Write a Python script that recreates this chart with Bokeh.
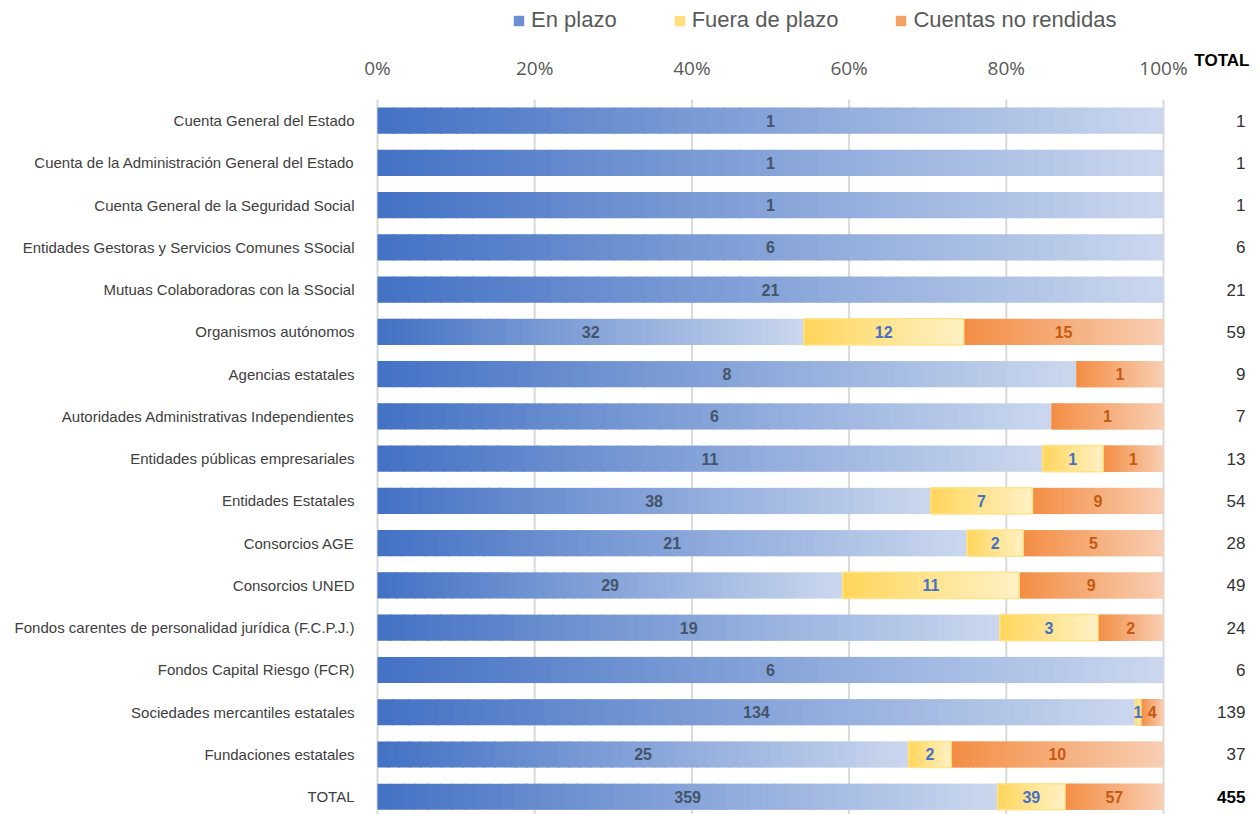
from bokeh.plotting import figure
from bokeh.models import (Range1d, FixedTicker, ColumnDataSource, Legend, LegendItem)
from bokeh.embed import file_html
from bokeh.resources import INLINE
from bokeh.core.properties import value

categories = [
    "Cuenta General del Estado",
    "Cuenta de la Administración General del Estado",
    "Cuenta General de la Seguridad Social",
    "Entidades Gestoras y Servicios Comunes SSocial",
    "Mutuas Colaboradoras con la SSocial",
    "Organismos autónomos",
    "Agencias estatales",
    "Autoridades Administrativas Independientes",
    "Entidades públicas empresariales",
    "Entidades Estatales",
    "Consorcios AGE",
    "Consorcios UNED",
    "Fondos carentes de personalidad jurídica (F.C.P.J.)",
    "Fondos Capital Riesgo (FCR)",
    "Sociedades mercantiles estatales",
    "Fundaciones estatales",
    "TOTAL",
]
en_plazo = [1, 1, 1, 6, 21, 32, 8, 6, 11, 38, 21, 29, 19, 6, 134, 25, 359]
fuera_plazo = [0, 0, 0, 0, 0, 12, 0, 0, 1, 7, 2, 11, 3, 0, 1, 2, 39]
no_rendidas = [0, 0, 0, 0, 0, 15, 1, 1, 1, 9, 5, 9, 2, 0, 4, 10, 57]
series_names = ["En plazo", "Fuera de plazo", "Cuentas no rendidas"]
x_ticks = [0, 0.2, 0.4, 0.6, 0.8, 1.0]
x_tick_labels = ["0%", "20%", "40%", "60%", "80%", "100%"]

totals = [a + b + c for a, b, c in zip(en_plazo, fuera_plazo, no_rendidas)]

# gradient endpoints per series (left -> right)
grads = [((0x44, 0x72, 0xC4), (0xC9, 0xD6, 0xEE)),
         ((0xFF, 0xD6, 0x5C), (0xFF, 0xF1, 0xC4)),
         ((0xF4, 0x8E, 0x45), (0xF8, 0xCE, 0xB2))]
label_colors = ["#44546A", "#4472C4", "#C55A11"]
N = 50
FONT = "Liberation Sans"

W, H = 1260, 814
BL = 361
X_MIN = -0.02036
Y_TOP, Y_BOT = -2.843, 16.42
X_MAX = 1.1234
TICK_Y = -1.234
HEAD_Y = -1.423
TOT_X = 1.1043


def lerp(c0, c1, t):
    return "#%02x%02x%02x" % tuple(int(round(a + (b - a) * t)) for a, b in zip(c0, c1))


p = figure(width=W, height=H, x_range=Range1d(X_MIN, X_MAX), y_range=Range1d(Y_BOT, Y_TOP),
           output_backend="svg", toolbar_location=None, x_axis_location=None,
           min_border_left=BL, min_border_right=0, min_border_top=0, min_border_bottom=0)
p.outline_line_color = None
p.background_fill_color = "white"
p.border_fill_color = "white"
p.xgrid.visible = False
p.ygrid.visible = False

# gridlines (from the tick list) spanning the bar area
p.segment(x0=x_ticks, x1=x_ticks, y0=[-0.5] * len(x_ticks), y1=[Y_BOT] * len(x_ticks),
          line_color="#D9D9D9", line_width=2)

# tick labels
p.text(x=x_ticks, y=[TICK_Y] * len(x_ticks), text=x_tick_labels, text_align="center",
       text_baseline="middle", text_font=value("Open Sans"), text_font_size="19px",
       text_color="#595959")

slices = dict(y=[], left=[], right=[], color=[])
lab = dict(x=[], y=[], text=[], color=[])
seg_border = dict(y=[], left=[], right=[])
series = [en_plazo, fuera_plazo, no_rendidas]
for i in range(len(categories)):
    tot = totals[i]
    start = 0.0
    for s, vals in enumerate(series):
        v = vals[i]
        if v == 0:
            continue
        w = v / tot
        end = start + w
        for k in range(N):
            t = k / (N - 1)
            slices["y"].append(i)
            slices["left"].append(start + w * k / N)
            slices["right"].append(min(end, start + w * (k + 1) / N + 0.002))
            slices["color"].append(lerp(grads[s][0], grads[s][1], t))
        if s == 1:
            seg_border["y"].append(i)
            seg_border["left"].append(start)
            seg_border["right"].append(end)
        lab["x"].append(start + w / 2)
        lab["y"].append(i)
        lab["text"].append(str(v))
        lab["color"].append(label_colors[s])
        start = end

p.hbar(y="y", left="left", right="right", height=0.62, fill_color="color", line_color=None,
       source=ColumnDataSource(slices))
p.hbar(y="y", left="left", right="right", height=0.62, fill_color=None, line_color="#FFE38A",
       line_width=1.5, source=ColumnDataSource(seg_border))
p.text(x="x", y="y", text="text", text_color="color", text_align="center",
       text_baseline="middle", text_font=value(FONT),
       text_font_style="bold", text_font_size="16px", source=ColumnDataSource(lab))

# legend proxies
proxies = []
for s in range(3):
    r = p.hbar(y=[0], left=[0], right=[0], height=0.0,
               fill_color=lerp(grads[s][0], grads[s][1], 0.3), line_color=None)
    proxies.append(r)
legend = Legend(items=[LegendItem(label=series_names[s], renderers=[proxies[s]]) for s in range(3)],
                orientation="horizontal", location=(151, H - 33), label_text_font=FONT,
                label_text_font_size="22px", label_text_color="#595959", glyph_width=13,
                glyph_height=13, spacing=56, padding=0, margin=0, border_line_color=None,
                background_fill_alpha=0, label_standoff=6, label_height=26)
p.add_layout(legend, "center")

# category axis
p.yaxis.ticker = FixedTicker(ticks=list(range(len(categories))))
p.yaxis.major_label_overrides = {i: c for i, c in enumerate(categories)}
p.yaxis.axis_line_color = None
p.yaxis.major_tick_line_color = None
p.yaxis.minor_tick_line_color = None
p.yaxis.major_label_text_font = FONT
p.yaxis.major_label_text_font_size = "15px"
p.yaxis.major_label_text_color = "#404040"
p.yaxis.major_label_standoff = 1

# total column
tot_src = ColumnDataSource(dict(y=list(range(len(categories) - 1)),
                                text=[str(t) for t in totals[:-1]]))
p.text(x=TOT_X, y="y", text="text", source=tot_src, text_align="right",
       text_baseline="middle", text_font=value(FONT), text_font_size="17px",
       text_color="#333333")
p.text(x=[TOT_X, TOT_X + 0.005], y=[len(categories) - 1, HEAD_Y], text=[str(totals[-1]), "TOTAL"],
       text_align="right", text_baseline="middle", text_font=value(FONT),
       text_font_style="bold", text_font_size="17px", text_color="#000000")

open("out.html", "w").write(file_html(p, INLINE))
